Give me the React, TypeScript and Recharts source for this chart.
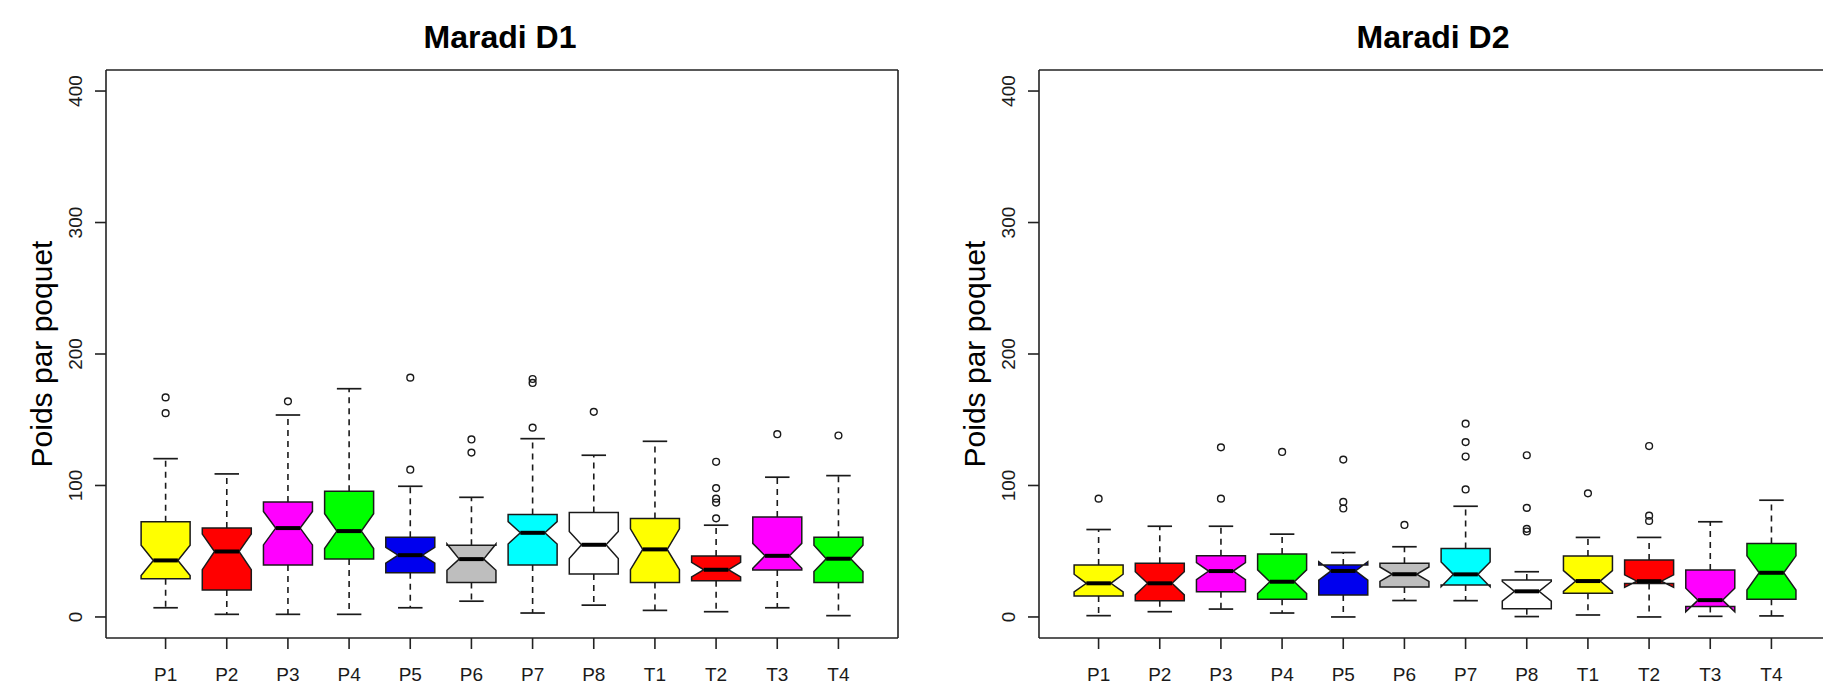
import React from 'react';
import { ComposedChart, Bar, XAxis, YAxis } from 'recharts';

// ---------- data ----------
const categories = ['P1', 'P2', 'P3', 'P4', 'P5', 'P6', 'P7', 'P8', 'T1', 'T2', 'T3', 'T4'];
const yTicks = [0, 100, 200, 300, 400];

// Maradi D1
const d1WhiskerLow = [7, 2, 2, 2, 7, 12, 3, 9, 5, 4, 7, 1];
const d1Q1 = [29, 20.5, 39.5, 44, 33.6, 26.3, 39.5, 32.6, 26.3, 27.6, 35.7, 26.3];
const d1Median = [43, 49.8, 67.6, 65.3, 47, 44, 64, 54.9, 51.4, 35.9, 46.5, 44.3];
const d1Q3 = [72.4, 67.6, 87.5, 95.6, 60.7, 54.6, 77.9, 79.5, 74.9, 46.3, 76.1, 60.7];
const d1WhiskerHigh = [120.4, 108.8, 153.6, 173.6, 99.4, 91, 135.6, 123, 133.6, 69.8, 106.3, 107.5];
const d1NotchLow = [31.5, 36, 54.8, 52, 41, 35.5, 55.5, 44.5, 36, 30.5, 37, 34.5];
const d1NotchHigh = [54.5, 63, 80.3, 78.5, 53, 55.5, 72.5, 65, 67, 41.5, 56, 54.5];
const d1Outliers = [[167, 155], [], [164], [], [182, 112], [135, 125], [181, 178, 144], [156], [], [118, 98, 90, 87, 75], [139], [138]];

// Maradi D2
const d2WhiskerLow = [1, 4, 6, 3, 0, 12.5, 12.4, 0.3, 1.5, 0, 0.5, 0.8];
const d2Q1 = [15.9, 12.4, 19.2, 13.4, 16.7, 22.8, 24.3, 6.3, 18, 25.5, 8, 13.4];
const d2Median = [25.6, 25.6, 34.9, 26.8, 35, 32.5, 32.4, 19.5, 27.3, 27.2, 12.8, 33.6];
const d2Q3 = [39.5, 40.8, 46.5, 47.8, 39.5, 40.8, 52.1, 28.1, 46.3, 43.3, 35.7, 55.9];
const d2WhiskerHigh = [66.5, 69, 69, 63, 49, 53.4, 84.2, 34.4, 60.5, 60.5, 72.4, 88.8];
const d2NotchLow = [19, 16.8, 28.4, 17.8, 28, 27, 23, 12, 19.5, 22.5, 4, 20.5];
const d2NotchHigh = [32.5, 34.4, 41.4, 35.8, 42, 38, 41.8, 27, 35.3, 32, 21.8, 46.5];
const d2Outliers = [[90], [], [129, 90], [125.5], [119.7, 87.5, 82.5], [70], [147, 133, 122, 97], [123, 83, 67, 65], [94], [130, 77, 73], [], []];

// palette (style)
const boxColors = ['#FFFF00', '#FF0000', '#FF00FF', '#00FF00', '#0000EE', '#BEBEBE', '#00FFFF', '#FFFFFF', '#FFFF00', '#FF0000', '#FF00FF', '#00FF00'];

const FONT = '"Liberation Sans", Arial, Helvetica, sans-serif';
const INK = '#1a1a1a';

function buildRows(wl: number[], q1: number[], med: number[], q3: number[], wh: number[], nl: number[], nh: number[], out: number[][]) {
  return categories.map((name, i) => ({
    name,
    wl: wl[i], q1: q1[i], med: med[i], q3: q3[i], wh: wh[i], nl: nl[i], nh: nh[i],
    out: out[i], color: boxColors[i],
  }));
}

const d1Rows = buildRows(d1WhiskerLow, d1Q1, d1Median, d1Q3, d1WhiskerHigh, d1NotchLow, d1NotchHigh, d1Outliers);
const d2Rows = buildRows(d2WhiskerLow, d2Q1, d2Median, d2Q3, d2WhiskerHigh, d2NotchLow, d2NotchHigh, d2Outliers);

// ---------- shapes ----------
const NotchedBox = (props: any) => {
  const { x, y, width, height, payload } = props;
  const top = payload.wh;
  const bottom = payload.wl;
  const k = height / (top - bottom);
  const py = (v: number) => y + (top - v) * k;
  const cx = x + width / 2;
  const w = width / 2;
  const pts = [
    [cx - w, py(payload.q1)],
    [cx + w, py(payload.q1)],
    [cx + w, py(payload.nl)],
    [cx + w * 0.5, py(payload.med)],
    [cx + w, py(payload.nh)],
    [cx + w, py(payload.q3)],
    [cx - w, py(payload.q3)],
    [cx - w, py(payload.nh)],
    [cx - w * 0.5, py(payload.med)],
    [cx - w, py(payload.nl)],
  ].map((p) => p.join(',')).join(' ');
  const sw = w * 0.5;
  return (
    <g>
      <line x1={cx} x2={cx} y1={py(payload.q3)} y2={py(payload.wh)} stroke={INK} strokeWidth={1.6} strokeDasharray="6 5" />
      <line x1={cx} x2={cx} y1={py(payload.q1)} y2={py(payload.wl)} stroke={INK} strokeWidth={1.6} strokeDasharray="6 5" />
      <line x1={cx - sw} x2={cx + sw} y1={py(payload.wh)} y2={py(payload.wh)} stroke={INK} strokeWidth={1.7} />
      <line x1={cx - sw} x2={cx + sw} y1={py(payload.wl)} y2={py(payload.wl)} stroke={INK} strokeWidth={1.7} />
      <polygon points={pts} fill={payload.color} stroke={INK} strokeWidth={1.5} strokeLinejoin="miter" />
      <line x1={cx - w * 0.5} x2={cx + w * 0.5} y1={py(payload.med)} y2={py(payload.med)} stroke="#000" strokeWidth={4} />
      {payload.out.map((v: number, j: number) => (
        <circle key={j} cx={cx} cy={py(v)} r={3.4} fill="none" stroke={INK} strokeWidth={1.4} />
      ))}
    </g>
  );
};

const RotTick = (props: any) => {
  const { x, y, payload } = props;
  return (
    <text x={x} y={y} transform={`rotate(-90, ${x}, ${y})`} textAnchor="middle" fontSize={19} fontFamily={FONT} fill={INK}>
      {payload.value}
    </text>
  );
};

const axisStroke = { stroke: '#222', strokeWidth: 1.6 };

function Panel({ title, rows, left }: { title: string; rows: any[]; left: number }) {
  return (
    <div style={{ position: 'absolute', left, top: 0, width: 911, height: 690 }}>
      <ComposedChart
        width={911}
        height={690}
        data={rows}
        margin={{ top: 69, right: 12, left: 0, bottom: 0 }}
        barCategoryGap="10%"
      >
        <XAxis
          dataKey="name"
          type="category"
          padding={{ left: 29, right: 29 }}
          height={52}
          tickSize={11}
          tickMargin={19}
          interval={0}
          tick={{ fontSize: 19, fill: INK, fontFamily: FONT }}
          axisLine={axisStroke}
          tickLine={axisStroke}
        />
        <XAxis xAxisId="top" orientation="top" dataKey="name" height={1} tick={false} tickLine={false} axisLine={axisStroke} />
        <YAxis
          type="number"
          domain={[-16, 416]}
          ticks={yTicks}
          allowDataOverflow
          width={106}
          tickSize={11}
          tickMargin={13}
          tick={<RotTick />}
          axisLine={axisStroke}
          tickLine={axisStroke}
        />
        <YAxis yAxisId="right" orientation="right" type="number" domain={[-16, 416]} allowDataOverflow width={1} tick={false} tickLine={false} axisLine={axisStroke} />
        <Bar dataKey={(d: any) => [d.wl, d.wh]} shape={NotchedBox} isAnimationActive={false} />
      </ComposedChart>
      <svg width={911} height={690} style={{ position: 'absolute', left: 0, top: 0, pointerEvents: 'none' }}>
        <text x={500} y={48} textAnchor="middle" fontSize={32} fontWeight="bold" fontFamily={FONT} fill="#000">
          {title}
        </text>
        <text x={52} y={354} transform="rotate(-90, 52, 354)" textAnchor="middle" fontSize={30} fontFamily={FONT} fill="#000">
          Poids par poquet
        </text>
      </svg>
    </div>
  );
}

export default function App() {
  return (
    <div style={{ position: 'fixed', left: 0, top: 0, width: 1823, height: 690, overflow: 'hidden', background: '#fff' }}>
      <Panel title="Maradi D1" rows={d1Rows} left={0} />
      <Panel title="Maradi D2" rows={d2Rows} left={933} />
    </div>
  );
}
